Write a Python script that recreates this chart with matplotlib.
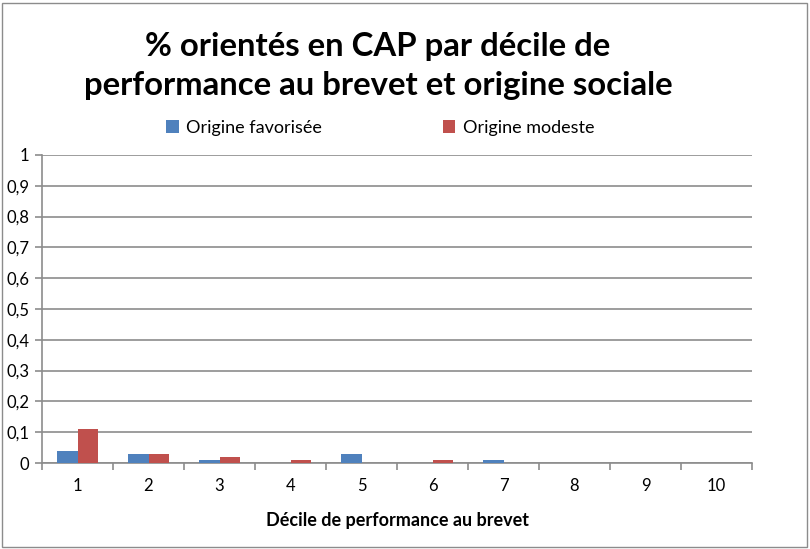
import matplotlib.pyplot as plt
import numpy as np
from matplotlib.patches import Rectangle

plt.rcParams['font.family'] = ['Lato', 'DejaVu Sans']

deciles = ['1', '2', '3', '4', '5', '6', '7', '8', '9', '10']
favorisee = [0.04, 0.03, 0.01, 0, 0.03, 0, 0.01, 0, 0, 0]
modeste = [0.11, 0.03, 0.02, 0.01, 0, 0.01, 0, 0, 0, 0]
yticks = [0, 0.1, 0.2, 0.3, 0.4, 0.5, 0.6, 0.7, 0.8, 0.9, 1]

blue = '#4f81bd'
red = '#c0504d'

fig = plt.figure(figsize=(8.1, 5.49), dpi=100)
ax = fig.add_axes([42 / 810, 1 - 463 / 549, 710 / 810, 308 / 549])

x = np.arange(len(deciles))
w = 0.295
ax.bar(x - w / 2, favorisee, w, color=blue, label='Origine favorisée', zorder=3)
ax.bar(x + w / 2, modeste, w, color=red, label='Origine modeste', zorder=3)

ax.set_xlim(-0.5, len(deciles) - 0.5)
ax.set_ylim(0, 1)
ax.set_yticks(yticks)
ax.set_yticklabels([('%g' % v).replace('.', ',') for v in yticks], fontsize=12)
ax.yaxis.grid(True, color='#8c8c8c', linewidth=1.2, zorder=0)

# category labels between boundary ticks
ax.set_xticks(np.arange(-0.5, len(deciles), 1))
ax.set_xticklabels([])
ax.set_xticks(x, minor=True)
ax.set_xticklabels(deciles, minor=True, fontsize=12)
ax.tick_params(axis='x', which='minor', length=0, pad=11)
ax.tick_params(axis='x', which='major', length=5, color='#8c8c8c', width=1.2)
ax.tick_params(axis='y', length=5, color='#8c8c8c', width=1.2, pad=4)

for s in ['top', 'right']:
    ax.spines[s].set_visible(False)
for s in ['left', 'bottom']:
    ax.spines[s].set_color('#8c8c8c')
    ax.spines[s].set_linewidth(1.2)

ax.set_xlabel('Décile de performance au brevet', fontsize=13, fontweight='bold', labelpad=13)

fig.text(378 / 810, 1 - 66 / 549,
         '% orientés en CAP par décile de\nperformance au brevet et origine sociale',
         ha='center', va='center', fontsize=23.7, fontweight='bold', linespacing=1.45)

ax.legend(loc='center', bbox_to_anchor=(380 / 810, 1 - 128 / 549),
          bbox_transform=fig.transFigure, ncol=2, frameon=False, fontsize=13,
          handlelength=0.7, handleheight=0.7, handletextpad=0.4, columnspacing=6.7)

fig.patches.append(Rectangle((2 / 810, 2 / 549), 805 / 810, 544 / 549,
                             transform=fig.transFigure, fill=False,
                             edgecolor='#8c8c8c', linewidth=1))

fig.savefig('out.png', dpi=100)
